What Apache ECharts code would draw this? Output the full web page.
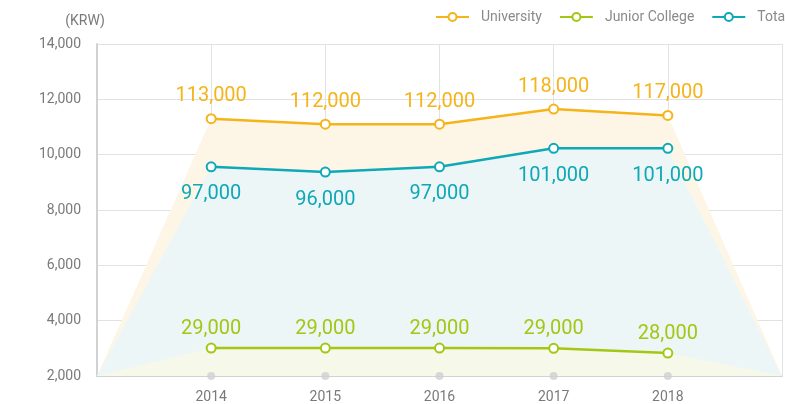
<!DOCTYPE html>
<html><head><meta charset="utf-8">
<script src="https://cdn.jsdelivr.net/npm/echarts@6/dist/echarts.min.js"></script>
<style>html,body{margin:0;padding:0;background:#fff}#c{width:785px;height:404px}</style>
</head><body><div id="c"></div>
<script>
// categories (blank ends are the area anchors)
const categories = ['', '2014', '2015', '2016', '2017', '2018', ''];
// plotted values
const university = [11300, 11100, 11100, 11650, 11420];
const juniorCollege = [3010, 3010, 3010, 3000, 2830];
const total = [9560, 9370, 9560, 10230, 10230];
// value labels shown on the chart
const universityLabels = ['113,000', '112,000', '112,000', '118,000', '117,000'];
const juniorLabels = ['29,000', '29,000', '29,000', '29,000', '28,000'];
const totalLabels = ['97,000', '96,000', '97,000', '101,000', '101,000'];
const yTicks = {min: 2000, max: 14000, interval: 2000};
const base = 2000;

const cU = '#f4b41a', cJ = '#a3c713', cT = '#0ea8b6';
const font = 'Roboto, "Noto Sans", sans-serif';

function areaData(v){ return [base].concat(v, [base]); }
function lineData(v){ return [null].concat(v, [null]); }
function areaSeries(name, v, color){
  return {name, type:'line', data: areaData(v), symbol:'none', silent:true,
    lineStyle:{width:0, opacity:0}, areaStyle:{color, opacity:1, origin:'start'}, z:1};
}
function lineSeries(name, v, labels, color, pos, dist){
  return {name, type:'line', data: lineData(v), symbol:'emptyCircle', symbolSize:9,
    itemStyle:{color, borderWidth:2.5}, lineStyle:{color, width:2.5}, z:5,
    label:{show:true, position:pos, distance:dist, color, fontSize:20, fontFamily:font,
      formatter: p => labels[p.dataIndex-1]}};
}

const chart = echarts.init(document.getElementById('c'), null, {renderer:'canvas'});
chart.setOption({
  animation:false,
  grid:{left:97, right:-2, top:44, bottom:28, containLabel:false},
  legend:{data:['University','Junior College','Total'], left:430, top:5, width:600, itemWidth:33, itemHeight:10, itemGap:17,
    textStyle:{color:'#8a8a8a', fontSize:14, fontFamily:font, padding:[0,0,0,7]}},
  xAxis:{type:'category', data:categories, boundaryGap:false,
    axisLine:{lineStyle:{color:'#d2d2d2', width:2}}, axisTick:{show:false},
    axisLabel:{color:'#7a7a7a', fontSize:14, fontFamily:font, margin:14},
    splitLine:{show:true, lineStyle:{color:'#e2e2e2', width:1}}},
  yAxis:{type:'value', min:yTicks.min, max:yTicks.max, interval:yTicks.interval,
    name:'(KRW)', nameLocation:'end', nameGap:16,
    nameTextStyle:{color:'#7a7a7a', fontSize:14, fontFamily:font, align:'center', padding:[0,24,0,0]},
    axisLine:{show:true, lineStyle:{color:'#d2d2d2', width:2}}, axisTick:{show:false},
    axisLabel:{color:'#7a7a7a', fontSize:14, fontFamily:font, margin:16,
      formatter: v => v.toLocaleString('en-US')},
    splitLine:{lineStyle:{color:'#e2e2e2', width:1}}},
  series:[
    areaSeries('uArea', university, '#fdf6e6'),
    areaSeries('tArea', total, '#ecf6f7'),
    areaSeries('jArea', juniorCollege, '#f6f8ea'),
    lineSeries('University', university, universityLabels, cU, 'top', 7),
    lineSeries('Junior College', juniorCollege, juniorLabels, cJ, 'top', 4),
    lineSeries('Total', total, totalLabels, cT, 'bottom', 12),
    {name:'ticks', type:'scatter', data:[null, base, base, base, base, base, null], symbolSize:8,
      itemStyle:{color:'#cfcfcf'}, silent:true, z:6}
  ]
});
</script></body></html>
